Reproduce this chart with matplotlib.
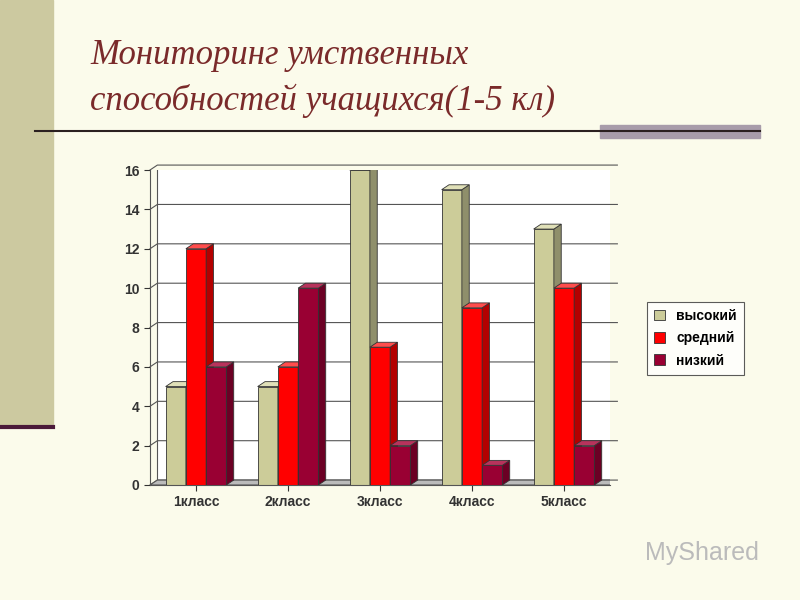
import matplotlib
matplotlib.use("Agg")
import matplotlib.pyplot as plt
from matplotlib.patches import Polygon, Rectangle

categories = ["1класс", "2класс", "3класс", "4класс", "5класс"]
series_names = ["высокий", "средний", "низкий"]
high = [5, 5, 16, 15, 13]
mid = [12, 6, 7, 9, 10]
low = [6, 10, 2, 1, 2]
yticks = [0, 2, 4, 6, 8, 10, 12, 14, 16]

front = ["#CCCC99", "#FF0000", "#990033"]
side = ["#8F8F6B", "#B30000", "#6B0024"]
top = ["#E0E0B8", "#FF4D4D", "#B8335C"]

bg = "#FBFBEB"
fig = plt.figure(figsize=(8, 6), dpi=100, facecolor=bg)

# slide decoration
deco = fig.add_axes([0, 0, 1, 1], facecolor="none")
deco.set_xlim(0, 800); deco.set_ylim(600, 0); deco.axis("off")
deco.add_patch(Rectangle((0, 0), 53, 425, color="#CCC9A0"))
deco.plot([0, 53], [427, 427], color="#4B1A3A", lw=3)
deco.plot([35, 760], [131, 131], color="#2B2020", lw=1.5)
deco.add_patch(Rectangle((600, 125), 160, 13, color="#A89CAA"))
deco.text(90, 55, "Мониторинг умственных", fontsize=25, style="italic",
          family="Liberation Serif", color="#7A2A2A", va="center")
deco.text(90, 101, "способностей учащихся(1-5 кл)", fontsize=25, style="italic",
          family="Liberation Serif", color="#7A2A2A", va="center")

ax = fig.add_axes([150 / 800, 1 - 485 / 600, 460 / 800, 315 / 600], facecolor="none")
ax.set_xlim(-0.5, 4.5)
ax.set_ylim(0, 16)
dx, dy = 0.08, 0.25
# back wall
ax.add_patch(Rectangle((-0.5 + dx, dy), 5, 16, facecolor="white", edgecolor="#555555", lw=0.8, zorder=0))
for t in yticks:
    ax.plot([-0.5, -0.5 + dx, 4.5 + dx], [t, t + dy, t + dy], color="#555555", lw=0.8, zorder=1, clip_on=False)
# floor
ax.add_patch(Polygon([(-0.5, 0), (4.5, 0), (4.5 + dx, dy), (-0.5 + dx, dy)],
                     closed=True, facecolor="#BBBBBB", edgecolor="#555555", lw=0.8, zorder=1))

w = 0.22
for si, vals in enumerate([high, mid, low]):
    for ci, v in enumerate(vals):
        x0 = ci - 1.5 * w + si * w
        z = 2 + si
        ax.add_patch(Rectangle((x0, 0), w, v, facecolor=front[si], edgecolor="#333333", lw=0.6, zorder=z))
        ax.add_patch(Polygon([(x0 + w, 0), (x0 + w + dx, dy), (x0 + w + dx, v + dy), (x0 + w, v)],
                             closed=True, facecolor=side[si], edgecolor="#333333", lw=0.6, zorder=z))
        ax.add_patch(Polygon([(x0, v), (x0 + dx, v + dy), (x0 + w + dx, v + dy), (x0 + w, v)],
                             closed=True, facecolor=top[si], edgecolor="#333333", lw=0.6, zorder=z))

ax.set_yticks(yticks)
ax.set_xticks(range(5))
ax.set_xticklabels(categories)
for lab in ax.get_xticklabels() + ax.get_yticklabels():
    lab.set_fontweight("bold"); lab.set_fontsize(10); lab.set_family("Liberation Sans")
for s in ["top", "right"]:
    ax.spines[s].set_visible(False)
ax.spines["left"].set_color("#555555")
ax.spines["bottom"].set_color("#555555")
ax.tick_params(length=4, colors="#333333")

handles = [Rectangle((0, 0), 1, 1, facecolor=front[i], edgecolor="#333333", lw=0.6) for i in range(3)]
leg = fig.legend(handles, series_names, loc="upper left", bbox_to_anchor=(640 / 800, 1 - 295 / 600),
                 frameon=True, fancybox=False, edgecolor="#333333", prop={"family": "Liberation Sans", "weight": "bold", "size": 10},
                 handlelength=0.8, handleheight=0.8, borderpad=0.5, labelspacing=0.6)
leg.get_frame().set_linewidth(0.8)

deco.text(645, 553, "MyShared", fontsize=18, color="#BBBBBB", va="center", family="Liberation Sans")

fig.savefig("out.png", dpi=100, facecolor=bg)
